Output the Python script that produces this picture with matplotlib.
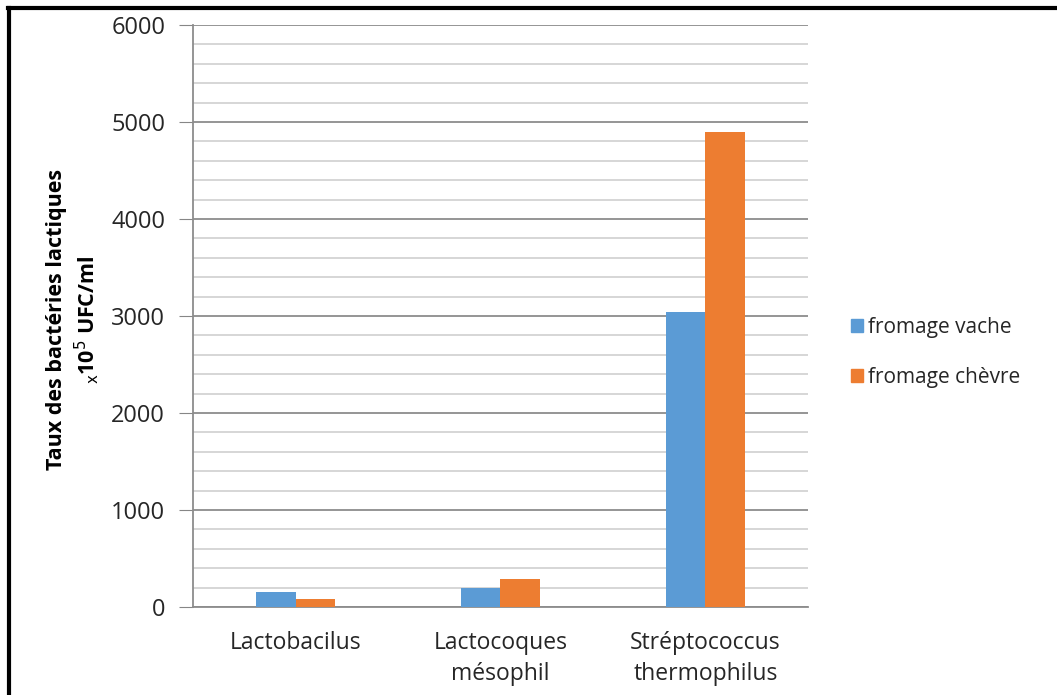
import numpy as np
from matplotlib import pyplot as plt
from matplotlib.lines import Line2D
from matplotlib.patches import Patch

categories = ['Lactobacilus', 'Lactocoques\nmésophil', 'Stréptococcus\nthermophilus']
vache = [150, 195, 3045]
chevre = [85, 290, 4900]
y_ticks = [0, 1000, 2000, 3000, 4000, 5000, 6000]

blue = '#5B9BD5'
orange = '#ED7D31'

plt.rcParams['font.family'] = ['Open Sans', 'DejaVu Sans']

fig = plt.figure(figsize=(10.57, 6.95), dpi=100)
ax = fig.add_axes([0.1826, 0.1266, 0.5818, 0.8374])

x = np.arange(len(categories))
w = 0.195
ax.bar(x - w / 2, vache, w, color=blue, zorder=3)
ax.bar(x + w / 2, chevre, w, color=orange, zorder=3)

ax.set_xlim(-0.5, 2.5)
ax.set_ylim(0, 6000)
ax.set_yticks(y_ticks)
ax.set_yticks(np.arange(0, 6001, 200), minor=True)
ax.set_xticks(x)
ax.set_xticklabels(categories, fontsize=16.5, color='#262626', linespacing=1.4)
ax.tick_params(axis='x', length=0, pad=17)
ax.tick_params(axis='y', which='major', length=10, color='#868686', labelsize=17,
               labelcolor='#262626', pad=10)
ax.tick_params(axis='y', which='minor', length=0)

ax.grid(axis='y', which='minor', color='#d0d0d0', linewidth=1.2, zorder=0)
ax.grid(axis='y', which='major', color='#8c8c8c', linewidth=1.3, zorder=1)

for s in ['top', 'right']:
    ax.spines[s].set_visible(False)
ax.spines['left'].set_color('#8c8c8c')
ax.spines['left'].set_linewidth(1.3)
ax.spines['bottom'].set_color('#8c8c8c')
ax.spines['bottom'].set_linewidth(1.3)

fig.text(0.053, 0.54, 'Taux des bactéries lactiques', rotation=90, fontsize=15.5,
         fontweight='bold', ha='center', va='center')
fig.text(0.082, 0.54, r'$_{\mathsf{x}}$10$^{\mathsf{5}}$ UFC/ml', rotation=90, fontsize=15.5,
         fontweight='bold', ha='center', va='center')

handles = [Patch(color=blue, label='fromage vache'),
           Patch(color=orange, label='fromage chèvre')]
fig.legend(handles=handles, loc='center left', bbox_to_anchor=(0.787, 0.493),
           frameon=False, fontsize=15, handlelength=0.6, handleheight=0.6,
           handletextpad=0.25, labelspacing=1.4, labelcolor='#262626')

# cadre autour de la figure
fig.add_artist(Line2D([0.0075, 1.0], [0.988, 0.988], color='black', linewidth=3,
                      transform=fig.transFigure))
fig.add_artist(Line2D([0.0085, 0.0085], [0.0, 0.988], color='black', linewidth=3,
                      transform=fig.transFigure))

fig.savefig('out.png', dpi=100)
